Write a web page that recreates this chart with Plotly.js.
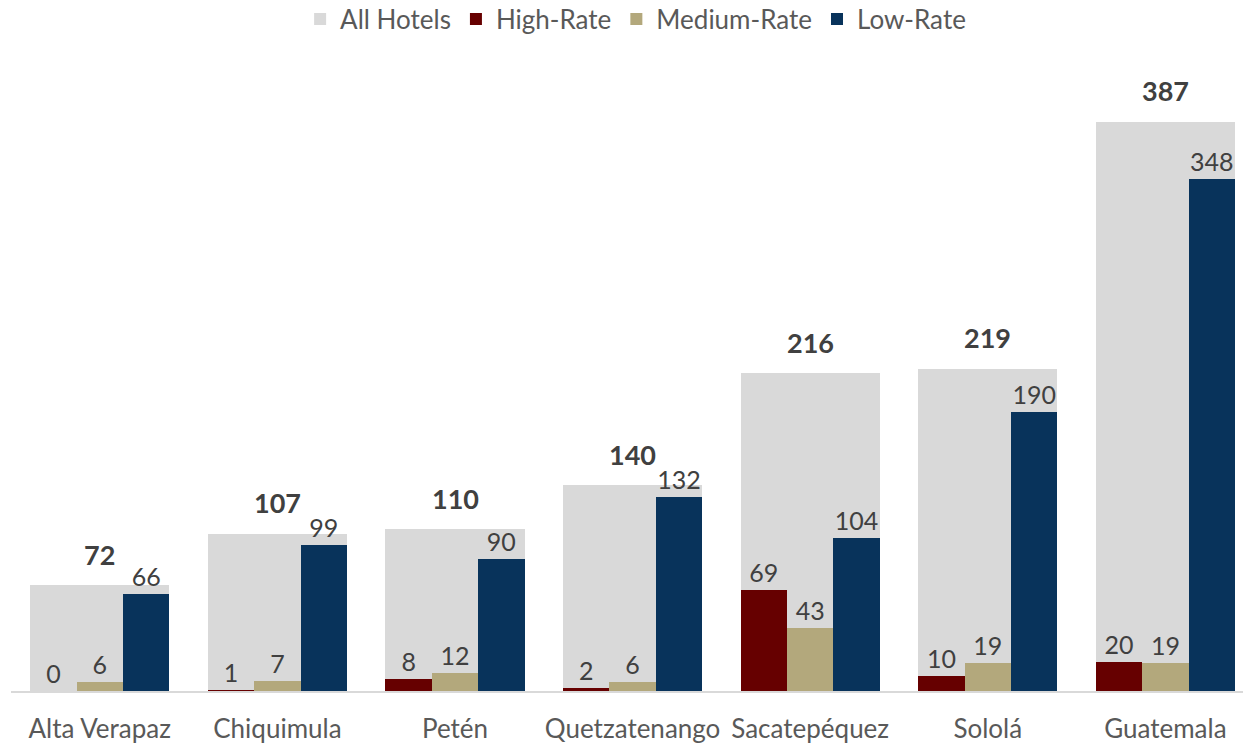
<!DOCTYPE html>
<html>
<head>
<meta charset="utf-8">
<script src="https://cdn.plot.ly/plotly-3.0.1.min.js"></script>
<style>html,body{margin:0;padding:0;background:#fff;}#chart{width:1243px;height:743px;}</style>
</head>
<body>
<div id="chart"></div>
<script>
const categories = ["Alta Verapaz", "Chiquimula", "Petén", "Quetzatenango", "Sacatepéquez", "Sololá", "Guatemala"];
const allHotels = [72, 107, 110, 140, 216, 219, 387];
const highRate = [0, 1, 8, 2, 69, 10, 20];
const mediumRate = [6, 7, 12, 6, 43, 19, 19];
const lowRate = [66, 99, 90, 132, 104, 190, 348];

const FONT = "Lato, 'Open Sans', sans-serif";
const W = 0.783, w = W / 3;

function sub(name, vals, color, off) {
  return {
    type: "bar", name: name, x: categories, y: vals,
    width: w, offset: off,
    marker: {color: color},
    text: vals.map(String), textposition: "outside",
    textfont: {family: FONT, size: 25, color: "#404040"},
    cliponaxis: false, hoverinfo: "x+y"
  };
}

const traces = [
  {type: "bar", name: "All Hotels", x: categories, y: allHotels, width: W, offset: -W / 2,
   marker: {color: "#D9D9D9"}, hoverinfo: "x+y"},
  sub("High-Rate", highRate, "#660000", -W / 2),
  sub("Medium-Rate", mediumRate, "#B3A87C", -W / 2 + w),
  sub("Low-Rate", lowRate, "#08335B", -W / 2 + 2 * w)
];

const annotations = categories.map((c, i) => ({
  x: c, y: allHotels[i], xref: "x", yref: "y",
  text: "<b>" + allHotels[i] + "</b>", showarrow: false,
  yanchor: "middle", yshift: 31,
  font: {family: FONT, size: 27, color: "#404040"}
}));

const layout = {
  width: 1243, height: 743,
  margin: {l: 11, r: 0, t: 60, b: 52, autoexpand: false},
  paper_bgcolor: "#fff", plot_bgcolor: "#fff",
  barmode: "overlay",
  bargap: 0,
  showlegend: true,
  legend: {orientation: "h", x: 0.507, xanchor: "center", y: 1.065, yanchor: "middle",
           font: {family: FONT, size: 26, color: "#595959"}, traceorder: "normal", itemwidth: 30},
  xaxis: {type: "category", range: [-0.5, 6.437], showline: true, linecolor: "#D9D9D9", linewidth: 1.5,
          ticks: "", showgrid: false, zeroline: false,
          tickfont: {family: FONT, size: 26, color: "#595959"}, ticklabelstandoff: 14},
  yaxis: {range: [0, 429], visible: false, showgrid: false, zeroline: false},
  annotations: annotations
};

Plotly.newPlot("chart", traces, layout, {displayModeBar: false, staticPlot: true});
</script>
</body>
</html>
